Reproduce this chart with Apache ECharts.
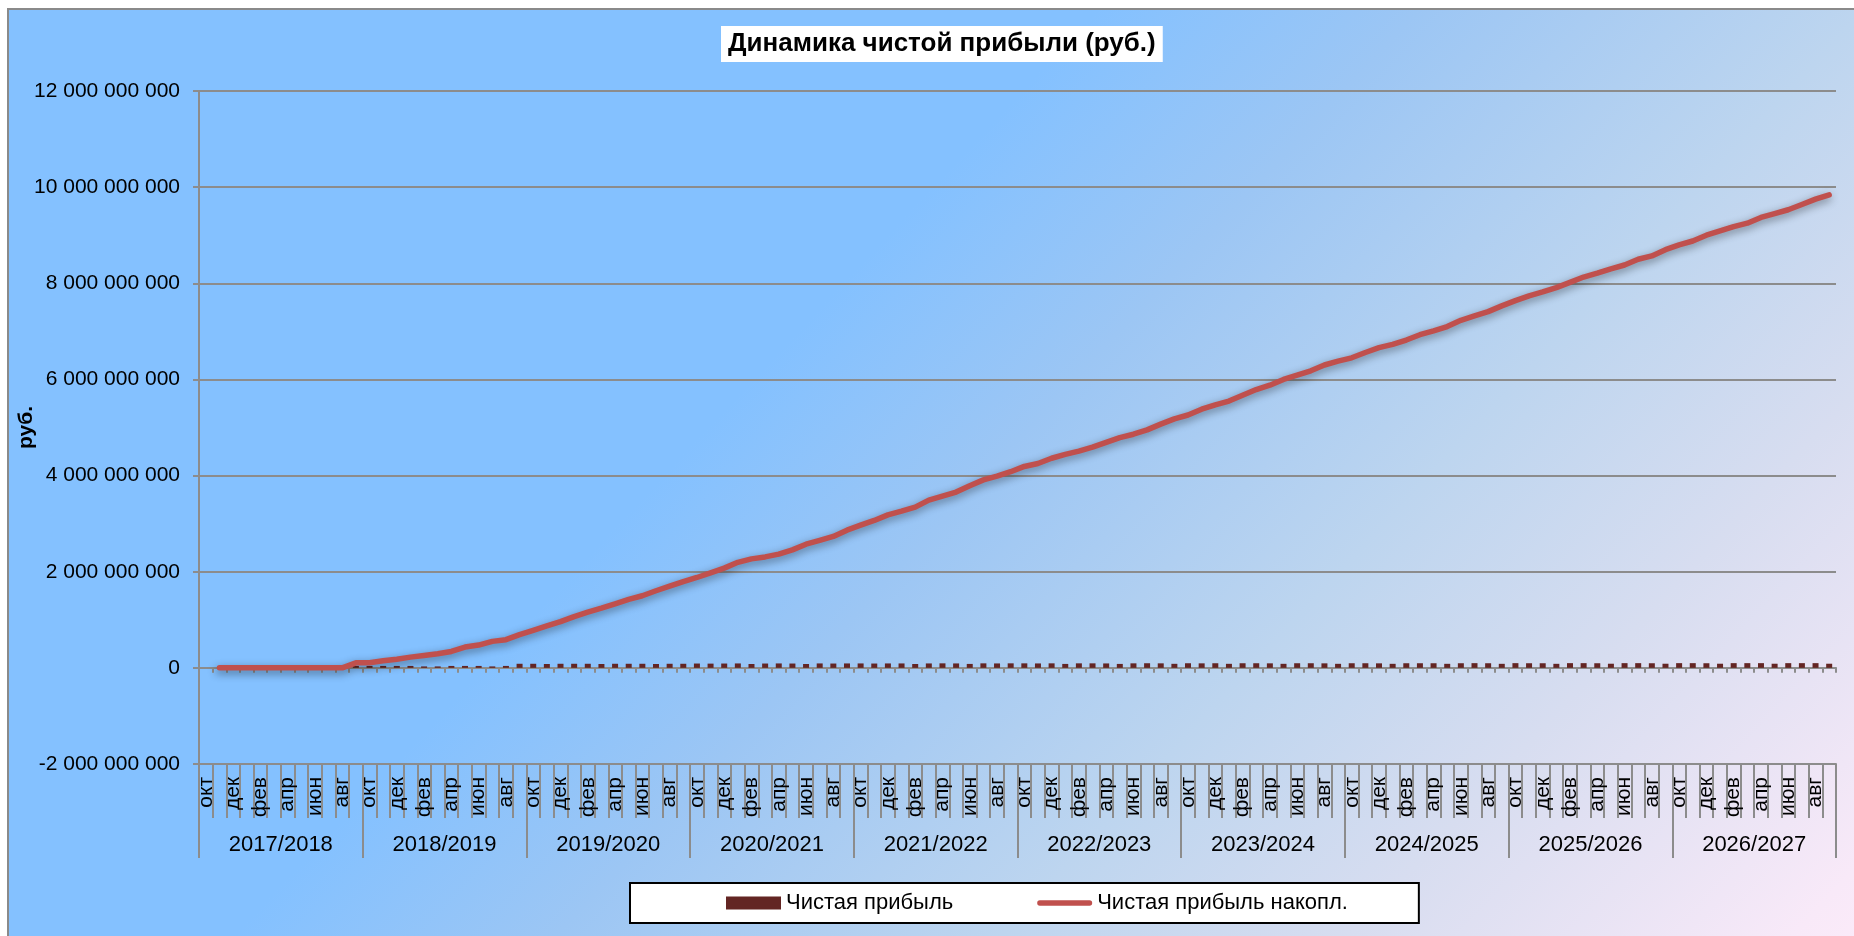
<!DOCTYPE html>
<html lang="ru">
<head>
<meta charset="utf-8">
<title>Динамика чистой прибыли</title>
<script src="https://cdn.jsdelivr.net/npm/echarts@6/dist/echarts.min.js"></script>
<style>
  html, body { margin: 0; padding: 0; width: 1854px; height: 936px; overflow: hidden; background: #ffffff; }
  #frame {
    position: absolute; left: 7px; top: 8px; width: 1870px; height: 950px;
    border: 2px solid #8a8a8a; box-sizing: border-box;
    background: linear-gradient(133deg,
      #84c1ff 0%, #84c1ff 39.6%, #9cc6f4 51.3%, #bdd5ef 67.5%,
      #d7ddf0 80.2%, #f8e9f8 96.3%, #fcebf9 100%);
  }
  #chart { position: absolute; left: 0; top: 0; width: 1854px; height: 936px; }
</style>
</head>
<body>
<div id="frame"></div>
<div id="chart"></div>
<script>
// Month names of the fiscal year (October to September) and the seasons shown
const months = ['окт', 'ноя', 'дек', 'янв', 'фев', 'мар', 'апр', 'май', 'июн', 'июл', 'авг', 'сен'];
const seasons = ['2017/2018', '2018/2019', '2019/2020', '2020/2021', '2021/2022',
                 '2022/2023', '2023/2024', '2024/2025', '2025/2026', '2026/2027'];

// Y axis ticks, rubles
const yTicks = { min: -2000000000, max: 12000000000, step: 2000000000 };

// Net profit per month, million rubles
const profit1718 = [0, 0, 0, 0, 0, 0, 0, 0, 0, 0, 0, 40];
const profit1819 = [40, 40, 40, 40, 30, 30, 40, 40, 40, 30, 40, 85];
const profit1920 = [85, 80, 85, 85, 85, 80, 85, 85, 85, 80, 85, 85];
const profit2021 = [90, 88, 90, 92, 80, 90, 92, 90, 80, 92, 90, 92];
const profit2122 = [92, 90, 92, 92, 80, 92, 94, 92, 82, 94, 92, 94];
const profit2223 = [94, 92, 94, 82, 94, 94, 92, 82, 94, 96, 94, 84];
const profit2324 = [96, 94, 96, 84, 96, 96, 94, 84, 96, 96, 94, 84];
const profit2425 = [96, 96, 94, 84, 96, 96, 96, 84, 96, 98, 96, 84];
const profit2526 = [98, 96, 96, 84, 98, 98, 96, 86, 98, 98, 96, 86];
const profit2627 = [98, 98, 96, 86, 98, 98, 98, 86, 98, 98, 98, 86];

// Accumulated net profit, million rubles (no value for the first month)
const cumulative1718 = [null, 0, 0, 0, 0, 0, 0, 0, 0, 0, 0, 105];
const cumulative1819 = [108, 146, 181, 223, 258, 293, 342, 432, 474, 551, 586, 690];
const cumulative1920 = [781, 872, 962, 1067, 1158, 1241, 1332, 1423, 1500, 1604, 1700, 1795];
const cumulative2021 = [1880, 1975, 2075, 2195, 2267, 2308, 2365, 2454, 2573, 2650, 2733, 2865];
const cumulative2122 = [2969, 3067, 3183, 3260, 3344, 3490, 3573, 3656, 3790, 3910, 3990, 4080];
const cumulative2223 = [4190, 4250, 4360, 4440, 4510, 4590, 4690, 4790, 4860, 4950, 5070, 5180];
const cumulative2324 = [5260, 5380, 5470, 5550, 5670, 5790, 5880, 6000, 6090, 6180, 6300, 6380];
const cumulative2425 = [6450, 6560, 6660, 6730, 6820, 6930, 7010, 7100, 7230, 7320, 7410, 7530];
const cumulative2526 = [7640, 7740, 7820, 7910, 8020, 8130, 8210, 8300, 8380, 8500, 8570, 8700];
const cumulative2627 = [8800, 8880, 9000, 9090, 9180, 9250, 9370, 9450, 9530, 9640, 9750, 9840];

const MLN = 1000000;
const categories = [];
seasons.forEach(function (s) { months.forEach(function (m) { categories.push(m + ' ' + s); }); });

const toRub = function (v) { return v === null ? '-' : v * MLN; };
const profit = [].concat(profit1718, profit1819, profit1920, profit2021, profit2122,
                         profit2223, profit2324, profit2425, profit2526, profit2627).map(toRub);
const cumulative = [].concat(cumulative1718, cumulative1819, cumulative1920, cumulative2021, cumulative2122,
                             cumulative2223, cumulative2324, cumulative2425, cumulative2526, cumulative2627).map(toRub);

const FONT = '"Liberation Sans", Arial, sans-serif';
const GRAY = '#8c8c8c';
// thick rounded stroke used as the legend marker of the accumulated line
const LINE_ICON = 'path://M2.75,0 L54.25,0 A2.75,2.75 0 0 1 54.25,5.5 L2.75,5.5 A2.75,2.75 0 0 1 2.75,0 Z';

function groupDigits(v) {
  return String(v).replace(/\B(?=(\d{3})+(?!\d))/g, ' ');
}

const chart = echarts.init(document.getElementById('chart'), null, { renderer: 'canvas' });

chart.setOption({
  animation: false,
  backgroundColor: 'transparent',
  textStyle: { fontFamily: FONT, color: '#000' },
  title: {
    text: 'Динамика чистой прибыли (руб.)',
    left: 721,
    top: 26,
    backgroundColor: '#ffffff',
    padding: [5, 7, 5, 7],
    textStyle: { fontFamily: FONT, fontSize: 26, fontWeight: 'bold', color: '#000' }
  },
  legend: {
    left: 630,
    top: 883,
    orient: 'horizontal',
    backgroundColor: '#ffffff',
    borderColor: '#000000',
    borderWidth: 2,
    borderRadius: 0,
    padding: [9, 71, 9, 96],
    itemWidth: 55,
    itemHeight: 13,
    itemGap: 84,
    textStyle: { fontFamily: FONT, fontSize: 22, color: '#000' },
    data: [
      { name: 'Чистая прибыль', icon: 'rect' },
      { name: 'Чистая прибыль накопл.', icon: LINE_ICON }
    ]
  },
  grid: { left: 199, right: 18, top: 91, bottom: 172, containLabel: false, outerBoundsMode: 'none' },
  xAxis: [
    {
      // category axis crossing the value axis at zero
      type: 'category',
      data: categories,
      position: 'bottom',
      boundaryGap: true,
      axisLine: { show: true, onZero: true, lineStyle: { color: GRAY, width: 2 } },
      axisTick: { show: true, interval: 0, length: 5, lineStyle: { color: GRAY, width: 2 } },
      axisLabel: { show: false },
      splitLine: { show: false }
    },
    {
      // month labels along the bottom edge
      type: 'category',
      data: categories,
      position: 'bottom',
      boundaryGap: true,
      axisLine: { show: true, onZero: false, lineStyle: { color: GRAY, width: 2 } },
      axisTick: { show: true, interval: 0, length: 54, lineStyle: { color: GRAY, width: 2 } },
      axisLabel: {
        interval: 1,
        rotate: 90,
        margin: 13,
        fontFamily: FONT,
        fontSize: 21,
        color: '#000',
        formatter: function (v) { return v.split(' ')[0]; }
      },
      splitLine: { show: false }
    },
    {
      // season labels below the months
      type: 'category',
      data: seasons,
      position: 'bottom',
      boundaryGap: true,
      axisLine: { show: false, onZero: false },
      axisTick: { show: true, interval: 0, length: 94, lineStyle: { color: GRAY, width: 2 } },
      axisLabel: { interval: 0, margin: 70, fontFamily: FONT, fontSize: 22, color: '#000' },
      splitLine: { show: false }
    }
  ],
  yAxis: {
    type: 'value',
    min: yTicks.min,
    max: yTicks.max,
    interval: yTicks.step,
    name: 'руб.',
    nameLocation: 'middle',
    nameGap: 162,
    nameMoveOverlap: false,
    nameTextStyle: { fontFamily: FONT, fontSize: 21, fontWeight: 'bold', color: '#000' },
    axisLine: { show: true, lineStyle: { color: GRAY, width: 2 } },
    axisTick: { show: true, length: 6, lineStyle: { color: GRAY, width: 2 } },
    axisLabel: { margin: 19, fontFamily: FONT, fontSize: 21, color: '#000', formatter: groupDigits },
    splitLine: { show: true, lineStyle: { color: GRAY, width: 2 } }
  },
  series: [
    {
      name: 'Чистая прибыль',
      type: 'bar',
      xAxisIndex: 0,
      barWidth: 6,
      itemStyle: { color: '#632523' },
      data: profit,
      z: 2
    },
    {
      name: 'Чистая прибыль накопл.',
      type: 'line',
      xAxisIndex: 0,
      symbol: 'none',
      showSymbol: false,
      connectNulls: false,
      itemStyle: { color: '#c0504d' },
      lineStyle: {
        color: '#c0504d',
        width: 5.5,
        cap: 'round',
        join: 'round',
        shadowColor: 'rgba(0, 0, 0, 0.45)',
        shadowBlur: 8,
        shadowOffsetX: -1,
        shadowOffsetY: 3
      },
      data: cumulative,
      z: 3
    }
  ]
});
</script>
</body>
</html>
